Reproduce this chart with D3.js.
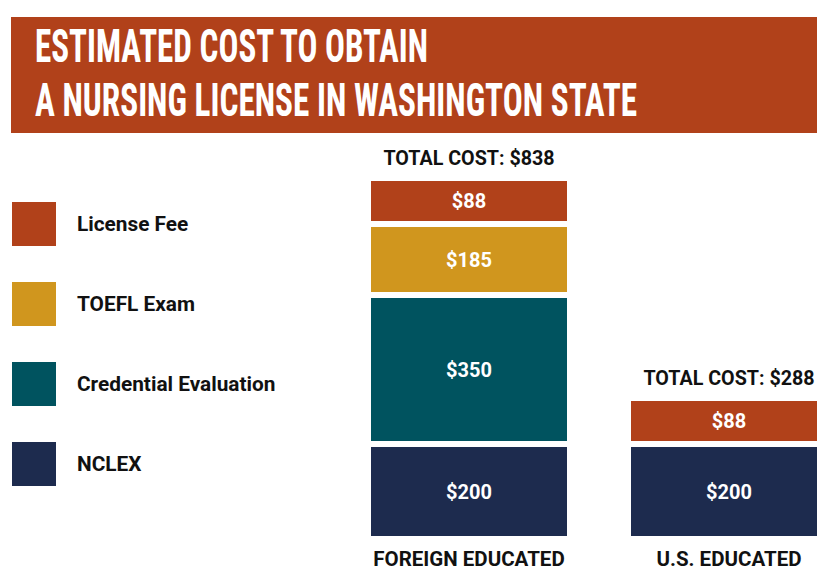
<!DOCTYPE html>
<html><head><meta charset="utf-8">
<script src="https://cdn.jsdelivr.net/npm/d3@7/dist/d3.min.js"></script>
<style>body{margin:0;background:#fff}svg{display:block}</style>
</head><body>
<script>
// ---- data ----
const titleLines = ["ESTIMATED COST TO OBTAIN", "A NURSING LICENSE IN WASHINGTON STATE"];
const categories = ["FOREIGN EDUCATED", "U.S. EDUCATED"];
const seriesNames = ["License Fee", "TOEFL Exam", "Credential Evaluation", "NCLEX"];
const licenseFee = [88, 88];
const toeflExam = [185, 0];
const credentialEval = [350, 0];
const nclex = [200, 200];
const totals = ["$838", "$288"];
const seriesColors = ["#B1411A", "#D0961E", "#00535F", "#1D2B4E"];

const W = 817, H = 573;
const svg = d3.select("body").append("svg").attr("width", W).attr("height", H);
const FONT = "Roboto, 'Open Sans', sans-serif";

// title banner
svg.append("rect").attr("x", 11).attr("y", 17).attr("width", W - 11).attr("height", 116).attr("fill", "#B1411A");
const titleW = [393, 602];
titleLines.forEach((t, i) => {
  svg.append("text").attr("x", 35).attr("y", 62 + i * 54)
    .attr("fill", "#fff")
    .attr("font-family", "'Liberation Sans Narrow','Roboto Condensed','DejaVu Sans Condensed','Liberation Sans',sans-serif")
    .attr("font-weight", "bold").attr("font-size", 46.5)
    .attr("textLength", titleW[i]).attr("lengthAdjust", "spacingAndGlyphs")
    .text(t);
});

// legend
const legY = d3.scalePoint().domain(seriesNames).range([224, 464]);
const leg = svg.append("g");
seriesNames.forEach((s, i) => {
  leg.append("rect").attr("x", 12).attr("y", legY(s) - 22).attr("width", 44).attr("height", 44).attr("fill", seriesColors[i]);
  leg.append("text").attr("x", 77).attr("y", legY(s)).attr("dy", "0.35em")
    .attr("font-family", FONT).attr("font-weight", "bold")
    .attr("font-size", 20.8).attr("fill", "#111").text(s);
});

// bars
const x = d3.scaleBand().domain(categories).range([371, 827]).paddingInner(64 / 260).paddingOuter(0);
// segment height scale (the infographic is not strictly proportional)
const h = d3.scaleLinear().domain([0, 88, 185, 200, 350]).range([0, 40, 65, 89, 143]);
const gap = 6, base = 536;
const stackOrder = [nclex, credentialEval, toeflExam, licenseFee]; // bottom to top
const stackColors = [seriesColors[3], seriesColors[2], seriesColors[1], seriesColors[0]];

categories.forEach((c, ci) => {
  let yTop = base;
  stackOrder.forEach((arr, si) => {
    const v = arr[ci];
    if (!v) return;
    const hh = h(v);
    const y0 = yTop - hh;
    svg.append("rect").attr("x", x(c)).attr("y", y0).attr("width", x.bandwidth()).attr("height", hh).attr("fill", stackColors[si]);
    svg.append("text").attr("x", x(c) + x.bandwidth() / 2).attr("y", y0 + hh / 2).attr("dy", "0.35em")
      .attr("text-anchor", "middle").attr("fill", "#fff")
      .attr("font-family", FONT).attr("font-weight", "bold").attr("font-size", 20)
      .text("$" + v);
    yTop = y0 - gap;
  });
  const topY = yTop + gap;
  svg.append("text").attr("x", x(c) + x.bandwidth() / 2).attr("y", topY - 23).attr("dy", "0.35em")
    .attr("text-anchor", "middle").attr("fill", "#111")
    .attr("font-family", FONT).attr("font-weight", "bold").attr("font-size", 19.7)
    .text("TOTAL COST: " + totals[ci]);
  svg.append("text").attr("x", x(c) + x.bandwidth() / 2).attr("y", 559).attr("dy", "0.35em")
    .attr("text-anchor", "middle").attr("fill", "#111")
    .attr("font-family", FONT).attr("font-weight", "bold").attr("font-size", 20.5)
    .text(c);
});
</script>
</body></html>
